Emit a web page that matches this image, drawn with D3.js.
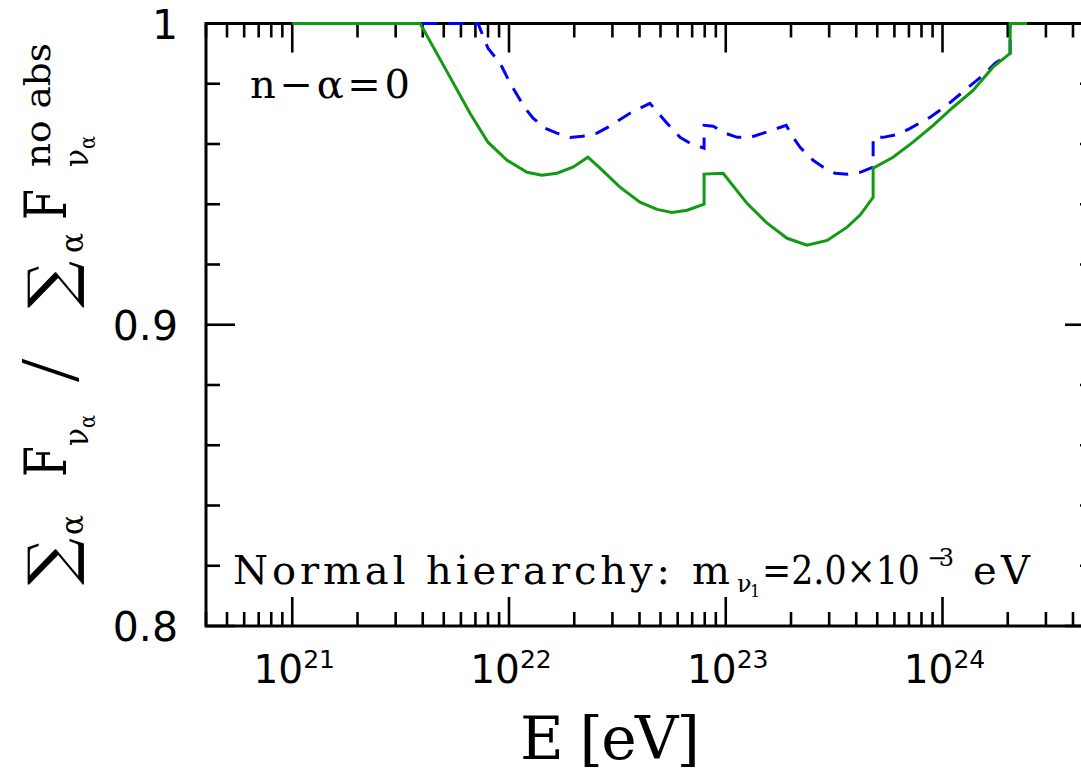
<!DOCTYPE html>
<html>
<head>
<meta charset="utf-8">
<script src="https://d3js.org/d3.v7.min.js"></script>
<style>
body { margin: 0; background: #fff; }
svg { display: block; }
.serif { font-family: "DejaVu Serif", serif; }
.sans { font-family: "DejaVu Sans", sans-serif; }
</style>
</head>
<body>
<svg id="chart" width="1081" height="772"></svg>
<script>
// log10(E) and ratio values
var greenLogE = [21.0, 21.59, 21.728, 21.82, 21.903, 21.991, 22.083, 22.152, 22.221, 22.295, 22.364,
  22.42, 22.512, 22.604, 22.683, 22.752, 22.822, 22.9, 22.9, 22.988, 23.098, 23.191, 23.283, 23.375,
  23.468, 23.56, 23.62, 23.68, 23.68, 23.772, 23.864, 23.957, 24.049, 24.141, 24.233, 24.312, 24.312, 24.39];
var greenVal = [1.0, 1.0, 0.9822, 0.9702, 0.9606, 0.9546, 0.9506, 0.9496, 0.9503, 0.9523, 0.9556,
  0.952, 0.9457, 0.9407, 0.9383, 0.9373, 0.938, 0.94, 0.95, 0.9503, 0.9403, 0.9337, 0.9287, 0.9264,
  0.928, 0.9324, 0.9364, 0.9423, 0.952, 0.9556, 0.9606, 0.9662, 0.9722, 0.9778, 0.9855, 0.9901, 1.0, 1.0];

var blueLogE = [21.0, 21.857, 21.903, 21.959, 22.005, 22.074, 22.111, 22.167, 22.221, 22.281, 22.341,
  22.406, 22.457, 22.558, 22.65, 22.729, 22.789, 22.835, 22.9, 22.9, 22.942, 22.997, 23.053, 23.113,
  23.173, 23.279, 23.311, 23.343, 23.403, 23.45, 23.505, 23.56, 23.62, 23.68, 23.68, 23.726, 23.795,
  23.851, 23.943, 24.021, 24.114, 24.187, 24.243, 24.312, 24.312, 24.39];
var blueVal = [1.0, 1.0, 0.9918, 0.9868, 0.9802, 0.9719, 0.9686, 0.9652, 0.9636, 0.9622, 0.9626,
  0.9636, 0.9656, 0.9702, 0.9735, 0.9669, 0.9622, 0.9603, 0.9586, 0.9662, 0.9659, 0.9636, 0.9622, 0.9622,
  0.9636, 0.9662, 0.9622, 0.9589, 0.9546, 0.9523, 0.9503, 0.95, 0.9506, 0.9523, 0.9622, 0.9622, 0.9632,
  0.9652, 0.9689, 0.9729, 0.9785, 0.9828, 0.9868, 0.9901, 1.0, 1.0];

var xDomain = [4e20, 5e24];
var yDomain = [0.8, 1.0];
var yMajor = [0.8, 0.9, 1.0];
var yLabels = ["0.8", "0.9", "1"];
var xMajorExp = [21, 22, 23, 24];

var svg = d3.select("#chart");
var pLeft = 206, pRight = 1094, pTop = 23.5, pBottom = 626;

var x = d3.scaleLog().domain(xDomain).range([pLeft, pRight]);
var y = d3.scaleLinear().domain(yDomain).range([pBottom, pTop]);

// ticks
var xTicks = [];
for (var e = 20; e <= 24; e++) {
  for (var m = 1; m <= 9; m++) {
    var v = m * Math.pow(10, e);
    if (v >= xDomain[0] && v <= xDomain[1]) xTicks.push({v: v, major: m === 1});
  }
}
var yTicks = d3.range(0, 11).map(function(i) { return {v: 0.8 + i * 0.02, major: i % 5 === 0}; });

var ticks = svg.append("g").attr("stroke", "#000").attr("stroke-width", 2.6);
xTicks.forEach(function(t) {
  var len = t.major ? 29 : 14;
  ticks.append("line").attr("x1", x(t.v)).attr("x2", x(t.v)).attr("y1", pBottom).attr("y2", pBottom - len);
  ticks.append("line").attr("x1", x(t.v)).attr("x2", x(t.v)).attr("y1", pTop).attr("y2", pTop + len);
});
yTicks.forEach(function(t) {
  var len = t.major ? 29 : 14;
  ticks.append("line").attr("x1", pLeft).attr("x2", pLeft + len).attr("y1", y(t.v)).attr("y2", y(t.v));
  ticks.append("line").attr("x1", pRight).attr("x2", pRight - len).attr("y1", y(t.v)).attr("y2", y(t.v));
});

svg.append("rect")
  .attr("x", pLeft).attr("y", pTop)
  .attr("width", pRight - pLeft).attr("height", pBottom - pTop)
  .attr("fill", "none").attr("stroke", "#000").attr("stroke-width", 3);

// curves
var line = d3.line()
  .x(function(d) { return x(Math.pow(10, d[0])); })
  .y(function(d) { return y(d[1]); });

svg.append("path")
  .datum(d3.zip(blueLogE, blueVal))
  .attr("d", line)
  .attr("fill", "none")
  .attr("stroke", "#0000ff")
  .attr("stroke-width", 3)
  .attr("stroke-dasharray", "15,11");

svg.append("path")
  .datum(d3.zip(greenLogE, greenVal))
  .attr("d", line)
  .attr("fill", "none")
  .attr("stroke", "#139a13")
  .attr("stroke-width", 3);

// y tick labels
yMajor.forEach(function(v, i) {
  svg.append("text").attr("class", "sans")
    .attr("x", 178).attr("y", y(v) + 15)
    .attr("text-anchor", "end")
    .attr("font-size", 41)
    .text(yLabels[i]);
});

// x tick labels
xMajorExp.forEach(function(k) {
  var t = svg.append("text").attr("class", "sans")
    .attr("x", x(Math.pow(10, k)) + 2).attr("y", 683)
    .attr("text-anchor", "middle")
    .attr("font-size", 39);
  t.append("tspan").text("10");
  t.append("tspan").attr("font-size", 25).attr("dy", -15).text(k);
});

// axis title
svg.append("text").attr("class", "serif")
  .attr("x", 610).attr("y", 759)
  .attr("text-anchor", "middle")
  .attr("font-size", 60)
  .attr("textLength", 180)
  .text("E [eV]");

// y axis title (rotated)
var yl = svg.append("g").attr("class", "serif").attr("transform", "rotate(-90)");
function piece(txt, u, v, size, len) {
  var t = yl.append("text").attr("x", u).attr("y", v).attr("font-size", size).text(txt);
  if (len) t.attr("textLength", len).attr("lengthAdjust", "spacingAndGlyphs");
  return t;
}
piece("\u2211", -585, 72, 62, 47);
piece("\u03b1", -535, 83, 32, 20);
piece("F", -477, 66, 57, 31);
piece("\u03bd", -446, 88, 34, 18);
piece("\u03b1", -428, 95, 22, 13);
piece("/", -382, 78, 84).style("font-family", "'Liberation Serif', serif");
piece("\u2211", -308, 72, 62, 47);
piece("\u03b1", -253, 83, 32, 20);
piece("F", -220, 66, 57, 31);
piece("\u03bd", -167, 88, 34, 18);
piece("\u03b1", -149, 95, 22, 13);
piece("no abs", -167, 50, 36, 124);

// annotations
svg.append("text").attr("class", "serif")
  .attr("x", 250).attr("y", 98)
  .attr("font-size", 40)
  .attr("textLength", 160)
  .text("n\u2212\u03b1=0");

var note = svg.append("g").attr("class", "serif").attr("font-size", 40);
note.append("text").attr("x", 233).attr("y", 584).attr("textLength", 437).text("Normal hierarchy:");
note.append("text").attr("x", 692).attr("y", 584).attr("textLength", 43).text("m");
note.append("text").attr("x", 737).attr("y", 592).attr("font-size", 24).text("\u03bd");
note.append("text").attr("x", 750).attr("y", 597).attr("font-size", 16).text("1");
note.append("text").attr("x", 762).attr("y", 584).attr("textLength", 158)
  .attr("lengthAdjust", "spacingAndGlyphs").text("=2.0\u00d710");
note.append("text").attr("x", 927).attr("y", 566).attr("font-size", 24).attr("textLength", 27).text("\u22123");
note.append("text").attr("x", 973).attr("y", 584).attr("textLength", 57).text("eV");
</script>
</body>
</html>
